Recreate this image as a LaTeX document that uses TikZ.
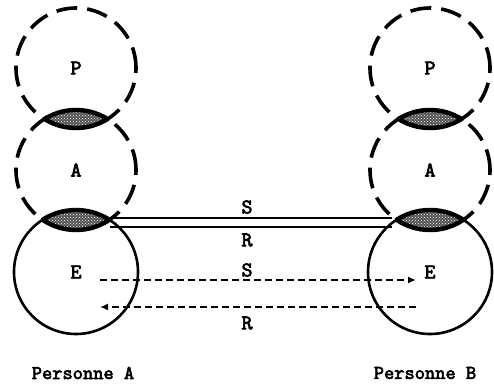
\documentclass[tikz,border=0pt]{standalone}
\usepackage{fontspec}
\newfontfamily\heavytt[FakeBold=3]{lmmono10-regular.otf}
\usetikzlibrary{patterns,arrows.meta}
\tikzset{
  ring/.style={circle, draw, minimum size=#1, inner sep=0pt, outer sep=0pt,
    font=\heavytt\fontsize{21}{21}\selectfont},
  dashring/.style={ring=#1, line width=3.6pt, dash pattern=on 21pt off 10pt},
  solidring/.style={ring=#1, line width=2.6pt},
  lensfill/.style={fill=black!68},
  lensdots/.style={pattern=crosshatch dots, pattern color=white},
  channel/.style={line width=1.2pt},
  flow/.style={line width=1.5pt, dash pattern=on 7pt off 4pt, -{Latex[length=8pt,width=7pt]}},
  lbl/.style={font=\heavytt\fontsize{21}{21}\selectfont, inner sep=0pt},
  caption/.style={font=\heavytt\fontsize{19.5}{19.5}\selectfont, inner sep=0pt}
}
\begin{document}
\begin{tikzpicture}[x=1pt,y=-1pt]
\useasboundingbox (0,0) rectangle (494,387);

% centres of the three spheres for each person
\coordinate (cPa) at (76,68);  \coordinate (cAa) at (76,170);  \coordinate (cEa) at (76,272);
\coordinate (cPb) at (430,68); \coordinate (cAb) at (430,170); \coordinate (cEb) at (430,272);

% shaded overlaps between neighbouring spheres
\foreach \u/\l/\ru/\rl in {cPa/cAa/60/60, cAa/cEa/60/62, cPb/cAb/60/60, cAb/cEb/60/62}{
  \begin{scope}
    \clip (\u) circle (\ru);
    \fill[lensfill] (\l) circle (\rl);
    \fill[lensdots] (\l) circle (\rl);
    \draw[line width=4.4pt] (\l) circle (\rl);
  \end{scope}
  \begin{scope}
    \clip (\l) circle (\rl);
    \draw[line width=4.4pt] (\u) circle (\ru);
  \end{scope}
}

% person A
\node[dashring=120pt] (Pa) at (cPa) {P};
\node[dashring=120pt] (Aa) at (cAa) {A};
\node[solidring=124pt] (Ea) at (cEa) {E};
% person B
\node[dashring=120pt] (Pb) at (cPb) {P};
\node[dashring=120pt] (Ab) at (cAb) {A};
\node[solidring=124pt] (Eb) at (cEb) {E};

% direct channel between the A/E overlaps
\coordinate (s1) at (110,218); \coordinate (s2) at (392,218);
\coordinate (r1) at (110,227); \coordinate (r2) at (392,227);
\draw[channel] (s1) -- (s2);
\draw[channel] (r1) -- (r2);
\node[lbl] (tS) at (247,207) {S};
\node[lbl] (tR) at (247,240) {R};

% exchanges between the E spheres
\coordinate (fa1) at (100,280); \coordinate (fb1) at (416,280);
\coordinate (fa2) at (100,307); \coordinate (fb2) at (416,307);
\draw[flow] (fa1) -- (fb1);
\draw[flow] (fb2) -- (fa2);
\node[lbl] (bS) at (247,270) {S};
\node[lbl] (bR) at (247,323) {R};

\node[caption] (nA) at (83,373) {Personne A};
\node[caption] (nB) at (425,373) {Personne B};
\end{tikzpicture}
\end{document}
